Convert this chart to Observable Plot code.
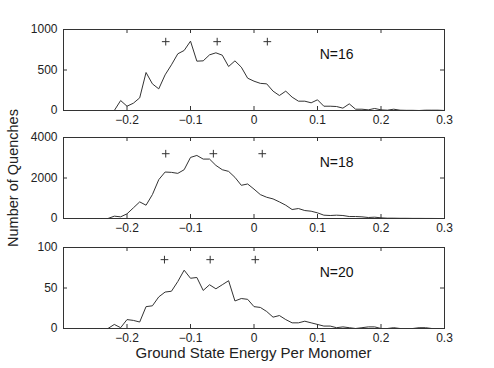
<!DOCTYPE html>
<html>
<head>
<meta charset="utf-8">
<script src="https://cdn.jsdelivr.net/npm/d3@7"></script>
<script src="https://cdn.jsdelivr.net/npm/@observablehq/plot@0.6"></script>
<style>
  body { margin: 0; background: #fff; }
  #chart { position: relative; width: 494px; height: 368px; font-family: "Liberation Sans", Arial, Helvetica, sans-serif; color: #222; }
  #chart svg { display: block; }
  #ylab { position: absolute; left: 13px; top: 178px; transform: translate(-50%, -50%) rotate(-90deg); white-space: nowrap; font-size: 14.5px; line-height: 15px; }
  #xlab { position: absolute; left: 63px; width: 381px; top: 345px; text-align: center; font-size: 15px; line-height: 15px; white-space: nowrap; }
</style>
</head>
<body>
<div id="chart"></div>
<script>
// Bin centres (ground state energy per monomer)
const energy = [-0.30,-0.29,-0.28,-0.27,-0.26,-0.25,-0.24,-0.23,-0.22,-0.21,-0.20,-0.19,-0.18,-0.17,-0.16,-0.15,-0.14,-0.13,-0.12,-0.11,-0.10,-0.09,-0.08,-0.07,-0.06,-0.05,-0.04,-0.03,-0.02,-0.01,0.00,0.01,0.02,0.03,0.04,0.05,0.06,0.07,0.08,0.09,0.10,0.11,0.12,0.13,0.14,0.15,0.16,0.17,0.18,0.19,0.20,0.21,0.22,0.23,0.24,0.25,0.26,0.27,0.28,0.29,0.30];

// Number of quenches per bin
const countsN16 = [0,0,0,0,0,0,0,0,0,123,53,90,156,469,329,267,440,564,700,741,856,609,613,687,712,683,543,613,535,399,362,335,329,239,185,239,165,115,115,95,132,53,53,49,29,82,16,16,8,25,8,4,16,4,2,2,0,4,4,4,0];
const countsN18 = [0,0,0,0,0,0,0,0,115,82,230,524,820,656,1180,1918,2295,2278,2229,2409,3016,3114,2934,2934,2622,2409,2327,2032,1639,1705,1450,1180,1049,967,820,656,443,492,393,360,279,164,148,164,148,98,98,82,49,66,33,16,16,10,10,5,5,3,2,0,0];
const countsN20 = [0,0,0,0,0,0,0,0,5,1,11,10,8,27,28,39,45,46,58,72,62,63,47,54,49,54,59,34,37,36,27,26,21,14,16,11,7,7,9,7,5,3,3,1,2,1,0,1,2,2,0,0,1,0,0,0,1,1,0,0,0];

// "+" markers
const plusN16 = [-0.139, -0.058, 0.021];
const plusN18 = [-0.139, -0.064, 0.013];
const plusN20 = [-0.141, -0.069, 0.002];
const plusY = {16: 850, 18: 3200, 20: 85};

// Axis ticks
const xTicks = [-0.2, -0.1, 0, 0.1, 0.2, 0.3];
const yTicksN16 = [0, 500, 1000];
const yTicksN18 = [0, 2000, 4000];
const yTicksN20 = [0, 50, 100];

const panelLabels = ["N=16", "N=18", "N=20"];

const FONT = '"Liberation Sans", Arial, Helvetica, sans-serif';
const INK = "#222";
const W = 494, ML = 63, MR = 50, TICK = 4;

function panel({counts, yTicks, plusX, plusVal, label, mt, mb, height}) {
  const data = energy.map((e, i) => ({e, c: counts[i]}));
  const innerH = height - mt - mb;
  const innerW = W - ML - MR;
  const yMax = yTicks[yTicks.length - 1];
  return Plot.plot({
    width: W, height,
    marginLeft: ML, marginRight: MR, marginTop: mt, marginBottom: mb,
    style: {fontFamily: FONT, fontSize: "12px", color: INK, background: "transparent", overflow: "visible"},
    x: {domain: [-0.3, 0.3], label: null},
    y: {domain: [0, yMax], label: null},
    marks: [
      Plot.frame({stroke: "#333"}),
      Plot.ruleX(xTicks.slice(0, 5), {insetTop: innerH - TICK, stroke: "#333"}),
      Plot.ruleX(xTicks.slice(0, 5), {insetBottom: innerH - TICK, stroke: "#333"}),
      Plot.ruleY(yTicks.slice(1, 2), {insetLeft: innerW - TICK, stroke: "#333"}),
      Plot.ruleY(yTicks.slice(1, 2), {insetRight: innerW - TICK, stroke: "#333"}),
      Plot.axisX(xTicks, {tickSize: 0, tickPadding: 5, label: null, fill: INK,
        tickFormat: d => d === 0 ? "0" : d3.format(".1f")(d)}),
      Plot.axisY(yTicks, {tickSize: 0, tickPadding: 6, label: null, fill: INK, tickFormat: d3.format("d")}),
      Plot.lineY(data, {x: "e", y: "c", stroke: "#333", strokeWidth: 1}),
      Plot.dot(plusX, {x: d => d, y: () => plusVal, symbol: "plus", r: 2.6, stroke: "#333", strokeWidth: 1}),
      Plot.text([label], {x: () => 0.13, y: () => yMax * 0.69, text: d => d, fontSize: 14, fill: "#111"})
    ]
  });
}

const chart = document.getElementById("chart");
chart.append(panel({counts: countsN16, yTicks: yTicksN16, plusX: plusN16, plusVal: plusY[16], label: panelLabels[0], mt: 29, mb: 18, height: 128}));
chart.append(panel({counts: countsN18, yTicks: yTicksN18, plusX: plusN18, plusVal: plusY[18], label: panelLabels[1], mt: 9, mb: 20, height: 110}));
chart.append(panel({counts: countsN20, yTicks: yTicksN20, plusX: plusN20, plusVal: plusY[20], label: panelLabels[2], mt: 9, mb: 18, height: 108}));

const yl = document.createElement("div");
yl.id = "ylab"; yl.textContent = "Number of Quenches";
chart.append(yl);
const xl = document.createElement("div");
xl.id = "xlab"; xl.textContent = "Ground State Energy Per Monomer";
chart.append(xl);
</script>
</body>
</html>
